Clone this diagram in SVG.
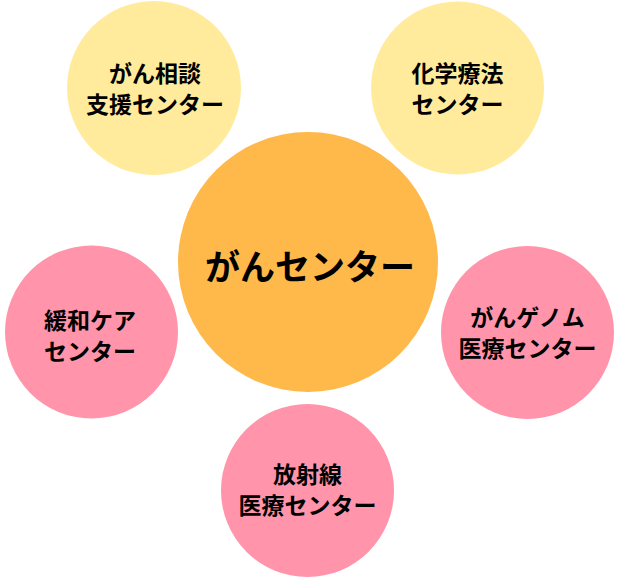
<svg xmlns="http://www.w3.org/2000/svg" width="620" height="580" viewBox="0 0 620 580">
<style>
.t{font-family:"Noto Sans CJK JP","Noto Sans",sans-serif;font-weight:700;fill:#000;text-anchor:middle}
.s{font-size:23px}
.c{font-size:35px}
.y{fill:#FFEB9B}
.o{fill:#FFB84A}
.p{fill:#FF94AA}
</style>
<rect width="620" height="580" fill="#fff"/>
<g id="node-center">
<circle class="o" cx="308" cy="262" r="130"/>
<text class="t c" x="310" y="280">がんセンター</text>
</g>
<g id="node-soudan">
<circle class="y" cx="154" cy="88" r="87"/>
<text class="t s" x="155" y="81.5">がん相談<tspan x="155" dy="31">支援センター</tspan></text>
</g>
<g id="node-kagaku">
<circle class="y" cx="457.5" cy="88" r="86.5"/>
<text class="t s" x="457.5" y="81.5">化学療法<tspan x="457.5" dy="31">センター</tspan></text>
</g>
<g id="node-kanwa">
<circle class="p" cx="91.5" cy="332" r="86.5"/>
<text class="t s" x="90" y="329">緩和ケア<tspan x="90" dy="31">センター</tspan></text>
</g>
<g id="node-genome">
<circle class="p" cx="527.5" cy="332.5" r="86.5"/>
<text class="t s" x="527.5" y="325.5">がんゲノム<tspan x="527.5" dy="31">医療センター</tspan></text>
</g>
<g id="node-housha">
<circle class="p" cx="307.5" cy="490.5" r="86.5"/>
<text class="t s" x="307.5" y="483">放射線<tspan x="307.5" dy="31">医療センター</tspan></text>
</g>
</svg>
